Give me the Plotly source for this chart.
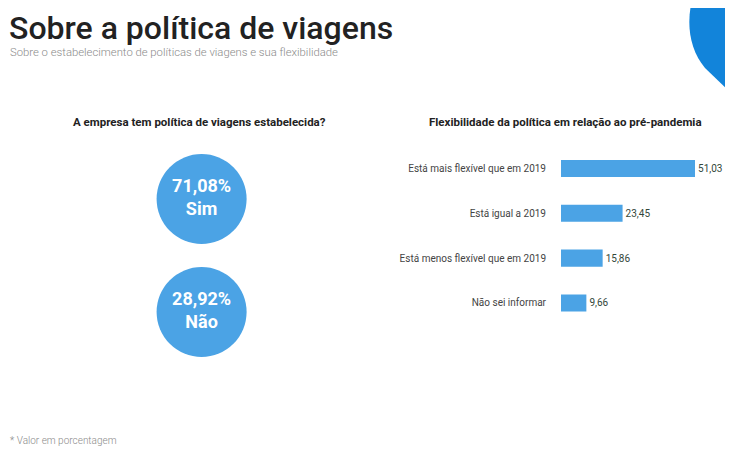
import plotly.graph_objects as go

# Dados
resposta_labels = ["Sim", "Não"]
resposta_valores = [71.08, 28.92]

flex_categorias = [
    "Está mais flexível que em 2019",
    "Está igual a 2019",
    "Está menos flexível que em 2019",
    "Não sei informar",
]
flex_valores = [51.03, 23.45, 15.86, 9.66]

azul = "#4BA3E5"
fonte = "Roboto"

# a página tem margem de 8px, então a figura fica um pouco menor
W, H, OFF = 725, 450, 8

def px(x):
    return (x - OFF) / W

def py(y):
    return 1 - (y - OFF) / H

def fmt(v):
    return f"{v:.2f}".replace(".", ",")

fig = go.Figure()

# Barras horizontais (direita)
fig.add_trace(go.Bar(
    x=flex_valores,
    y=flex_categorias,
    orientation="h",
    marker=dict(color=azul, line=dict(width=0)),
    text=[fmt(v) for v in flex_valores],
    textposition="outside",
    textfont=dict(color="#34473a", size=10, family=fonte),
    cliponaxis=False,
    xaxis="x",
    yaxis="y",
    hoverinfo="skip",
))

# Círculos (esquerda)
fig.add_trace(go.Scatter(
    x=[0] * len(resposta_valores),
    y=list(range(len(resposta_valores))),
    mode="markers+text",
    marker=dict(size=90, color=azul, line=dict(width=0)),
    text=[f"<b>{fmt(v)}%</b><br><b>{l}</b>" for v, l in zip(resposta_valores, resposta_labels)],
    textposition="middle center",
    textfont=dict(color="white", size=18, family=fonte),
    xaxis="x2",
    yaxis="y2",
    hoverinfo="skip",
))

fig.update_layout(
    width=W,
    height=H,
    margin=dict(l=0, r=0, t=0, b=0),
    paper_bgcolor="white",
    plot_bgcolor="white",
    showlegend=False,
    bargap=0.62,
    xaxis=dict(domain=[px(561), 1], range=[0, 65.5], visible=False),
    yaxis=dict(
        domain=[py(325.4), py(146)],
        autorange="reversed",
        showgrid=False,
        showline=False,
        zeroline=False,
        ticks="",
        ticklabelstandoff=14,
        tickfont=dict(size=10, color="#444", family=fonte),
    ),
    xaxis2=dict(domain=[0, 2 * px(201.6)], range=[-1, 1], visible=False),
    yaxis2=dict(domain=[0, 1], range=[2.292, -1.690], visible=False, anchor="x2"),
)

# Forma azul decorativa no canto
blob = [(692, 0), (686, 25), (690, 50), (705, 68)]
path = (f"M {px(blob[0][0])},{py(blob[0][1])} "
        f"C {px(blob[1][0])},{py(blob[1][1])} {px(blob[2][0])},{py(blob[2][1])} "
        f"{px(blob[3][0])},{py(blob[3][1])} "
        f"L {px(733)},{py(95)} L {px(733)},{py(0)} Z")
fig.add_shape(
    type="path",
    xref="paper", yref="paper",
    path=path,
    fillcolor="#1284DA",
    line=dict(width=0),
    layer="below",
)

fig.add_annotation(
    text="Sobre a política de viagens",
    xref="paper", yref="paper", x=px(8), y=1,
    xanchor="left", yanchor="top", showarrow=False, borderpad=0,
    font=dict(size=32, color="#222", family=fonte, weight=500),
)
fig.add_annotation(
    text="Sobre o estabelecimento de políticas de viagens e sua flexibilidade",
    xref="paper", yref="paper", x=px(8), y=py(53),
    xanchor="left", yanchor="middle", showarrow=False,
    font=dict(size=11.3, color="#8a8a8a", family=fonte, weight=300),
)
fig.add_annotation(
    text="<b>A empresa tem política de viagens estabelecida?</b>",
    xref="paper", yref="paper", x=px(199), y=py(122),
    xanchor="center", yanchor="middle", showarrow=False,
    font=dict(size=11.5, color="#222", family=fonte),
)
fig.add_annotation(
    text="<b>Flexibilidade da política em relação ao pré-pandemia</b>",
    xref="paper", yref="paper", x=px(565), y=py(122),
    xanchor="center", yanchor="middle", showarrow=False,
    font=dict(size=11.5, color="#222", family=fonte),
)
fig.add_annotation(
    text="* Valor em porcentagem",
    xref="paper", yref="paper", x=px(8), y=py(440),
    xanchor="left", yanchor="middle", showarrow=False,
    font=dict(size=10, color="#8a8a8a", family=fonte, weight=300),
)

fig.write_html("out.html")
